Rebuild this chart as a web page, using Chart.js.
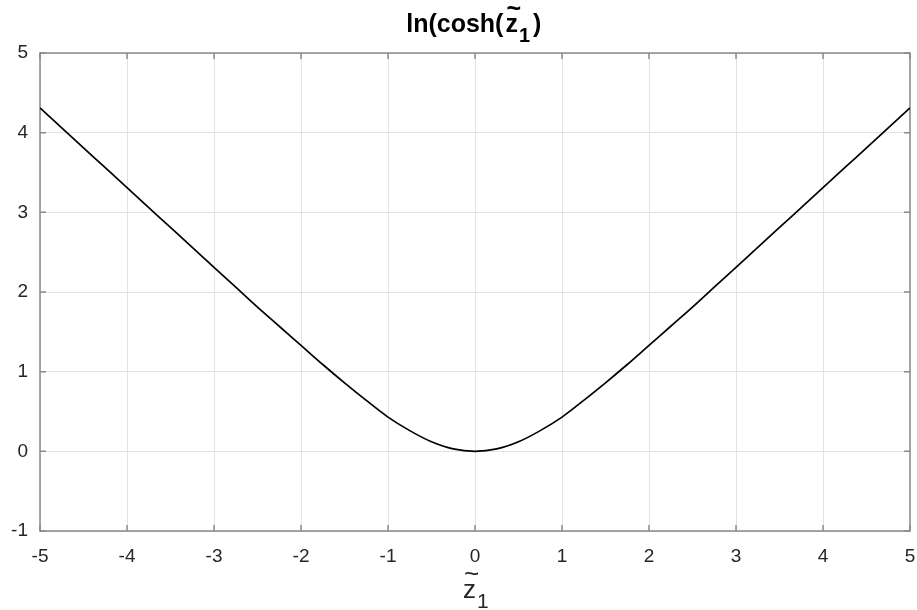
<!DOCTYPE html>
<html>
<head>
<meta charset="utf-8">
<script src="https://cdn.jsdelivr.net/npm/chart.js@4/dist/chart.umd.min.js"></script>
<style>
  html, body { margin: 0; padding: 0; background: #fff; }
  canvas { display: block; }
</style>
</head>
<body>
<canvas id="chart" width="917" height="610"></canvas>
<script>
// sample positions along z~1
const zValues = [
  -5, -4.75, -4.5, -4.25, -4, -3.75, -3.5, -3.25, -3, -2.75, -2.5, -2.25, -2, -1.75, -1.5, -1.25, -1, -0.75, -0.5, -0.25,
  0, 0.25, 0.5, 0.75, 1, 1.25, 1.5, 1.75, 2, 2.25, 2.5, 2.75, 3, 3.25, 3.5, 3.75, 4, 4.25, 4.5, 4.75, 5
];
// ln(cosh(z~1)) at those positions
const lnCoshValues = [
  4.31, 4.06, 3.81, 3.56, 3.31, 3.06, 2.81, 2.56, 2.31, 2.06, 1.81, 1.57, 1.33, 1.09, 0.86, 0.64, 0.43, 0.26, 0.12, 0.03,
  0, 0.03, 0.12, 0.26, 0.43, 0.64, 0.86, 1.09, 1.33, 1.57, 1.81, 2.06, 2.31, 2.56, 2.81, 3.06, 3.31, 3.56, 3.81, 4.06, 4.31
];
const xTicks = [-5, -4, -3, -2, -1, 0, 1, 2, 3, 4, 5];
const yTicks = [-1, 0, 1, 2, 3, 4, 5];

const FONT = '"Liberation Sans", Arial, sans-serif';
const AXIS_COLOR = '#8a8a8a';
const TEXT_COLOR = '#262626';

// draws "z" with a tilde over it and a subscript 1, starting at x
function drawZTilde(ctx, x, baseline, size, bold) {
  const weight = bold ? 'bold ' : '';
  ctx.font = weight + size + 'px ' + FONT;
  ctx.textAlign = 'left';
  ctx.textBaseline = 'alphabetic';
  ctx.fillText('z', x, baseline);
  const zw = ctx.measureText('z').width;
  ctx.fillText('~', x + zw * 0.08, baseline - size * 0.6);
  ctx.font = weight + Math.round(size * 0.8) + 'px ' + FONT;
  ctx.fillText('1', x + zw + 1, baseline + size * 0.4);
  return zw + 1 + ctx.measureText('1').width;
}

const framePlugin = {
  id: 'frame',
  beforeDatasetsDraw(chart) {
    const { ctx, chartArea: a, scales } = chart;
    ctx.save();
    ctx.strokeStyle = AXIS_COLOR;
    ctx.lineWidth = 1.5;
    ctx.strokeRect(a.left, a.top, a.right - a.left, a.bottom - a.top);
    ctx.beginPath();
    const tl = 6;
    xTicks.forEach(v => {
      const px = scales.x.getPixelForValue(v);
      ctx.moveTo(px, a.bottom); ctx.lineTo(px, a.bottom - tl);
      ctx.moveTo(px, a.top); ctx.lineTo(px, a.top + tl);
    });
    yTicks.forEach(v => {
      const py = scales.y.getPixelForValue(v);
      ctx.moveTo(a.left, py); ctx.lineTo(a.left + tl, py);
      ctx.moveTo(a.right, py); ctx.lineTo(a.right - tl, py);
    });
    ctx.stroke();
    ctx.restore();
  },
  afterDraw(chart) {
    const { ctx, chartArea: a } = chart;
    const cx = (a.left + a.right) / 2;
    ctx.save();
    ctx.fillStyle = '#000';

    // title: ln(cosh(z~1)
    const head = 'ln(cosh(';
    ctx.font = 'bold 25px ' + FONT;
    const headW = ctx.measureText(head).width;
    const tailW = ctx.measureText(')').width;
    const total = headW + 32 + tailW;
    let x = cx - total / 2;
    ctx.textAlign = 'left';
    ctx.textBaseline = 'alphabetic';
    ctx.fillText(head, x, 32);
    x += headW + 2;
    x += drawZTilde(ctx, x, 32, 25, true);
    ctx.font = 'bold 25px ' + FONT;
    ctx.fillText(')', x + 3, 32);

    // x axis label: z~1
    ctx.fillStyle = TEXT_COLOR;
    drawZTilde(ctx, cx - 12, 598, 26, false);
    ctx.restore();
  }
};

new Chart(document.getElementById('chart'), {
  type: 'line',
  data: {
    datasets: [{
      data: zValues.map((z, i) => ({ x: z, y: lnCoshValues[i] })),
      borderColor: '#000',
      borderWidth: 1.7,
      pointRadius: 0,
      cubicInterpolationMode: 'monotone',
      fill: false
    }]
  },
  options: {
    responsive: false,
    animation: false,
    layout: { padding: { top: 53, right: 7, left: 0, bottom: 0 } },
    plugins: {
      legend: { display: false },
      title: { display: false },
      tooltip: { enabled: false }
    },
    scales: {
      x: {
        type: 'linear',
        min: -5,
        max: 5,
        afterFit: s => { s.height = 79; s.paddingLeft = 0; s.paddingRight = 0; },
        afterBuildTicks: s => { s.ticks = xTicks.map(v => ({ value: v })); },
        grid: { color: '#e3e3e3', lineWidth: 1, drawTicks: false },
        border: { display: false },
        ticks: {
          padding: 14,
          color: TEXT_COLOR,
          font: { family: FONT, size: 19 }
        }
      },
      y: {
        type: 'linear',
        min: -1,
        max: 5,
        afterFit: s => { s.width = 40; s.paddingTop = 0; s.paddingBottom = 0; },
        afterBuildTicks: s => { s.ticks = yTicks.map(v => ({ value: v })); },
        grid: { color: '#e3e3e3', lineWidth: 1, drawTicks: false },
        border: { display: false },
        ticks: {
          padding: 12,
          color: TEXT_COLOR,
          font: { family: FONT, size: 19 }
        }
      }
    }
  },
  plugins: [framePlugin]
});
</script>
</body>
</html>
